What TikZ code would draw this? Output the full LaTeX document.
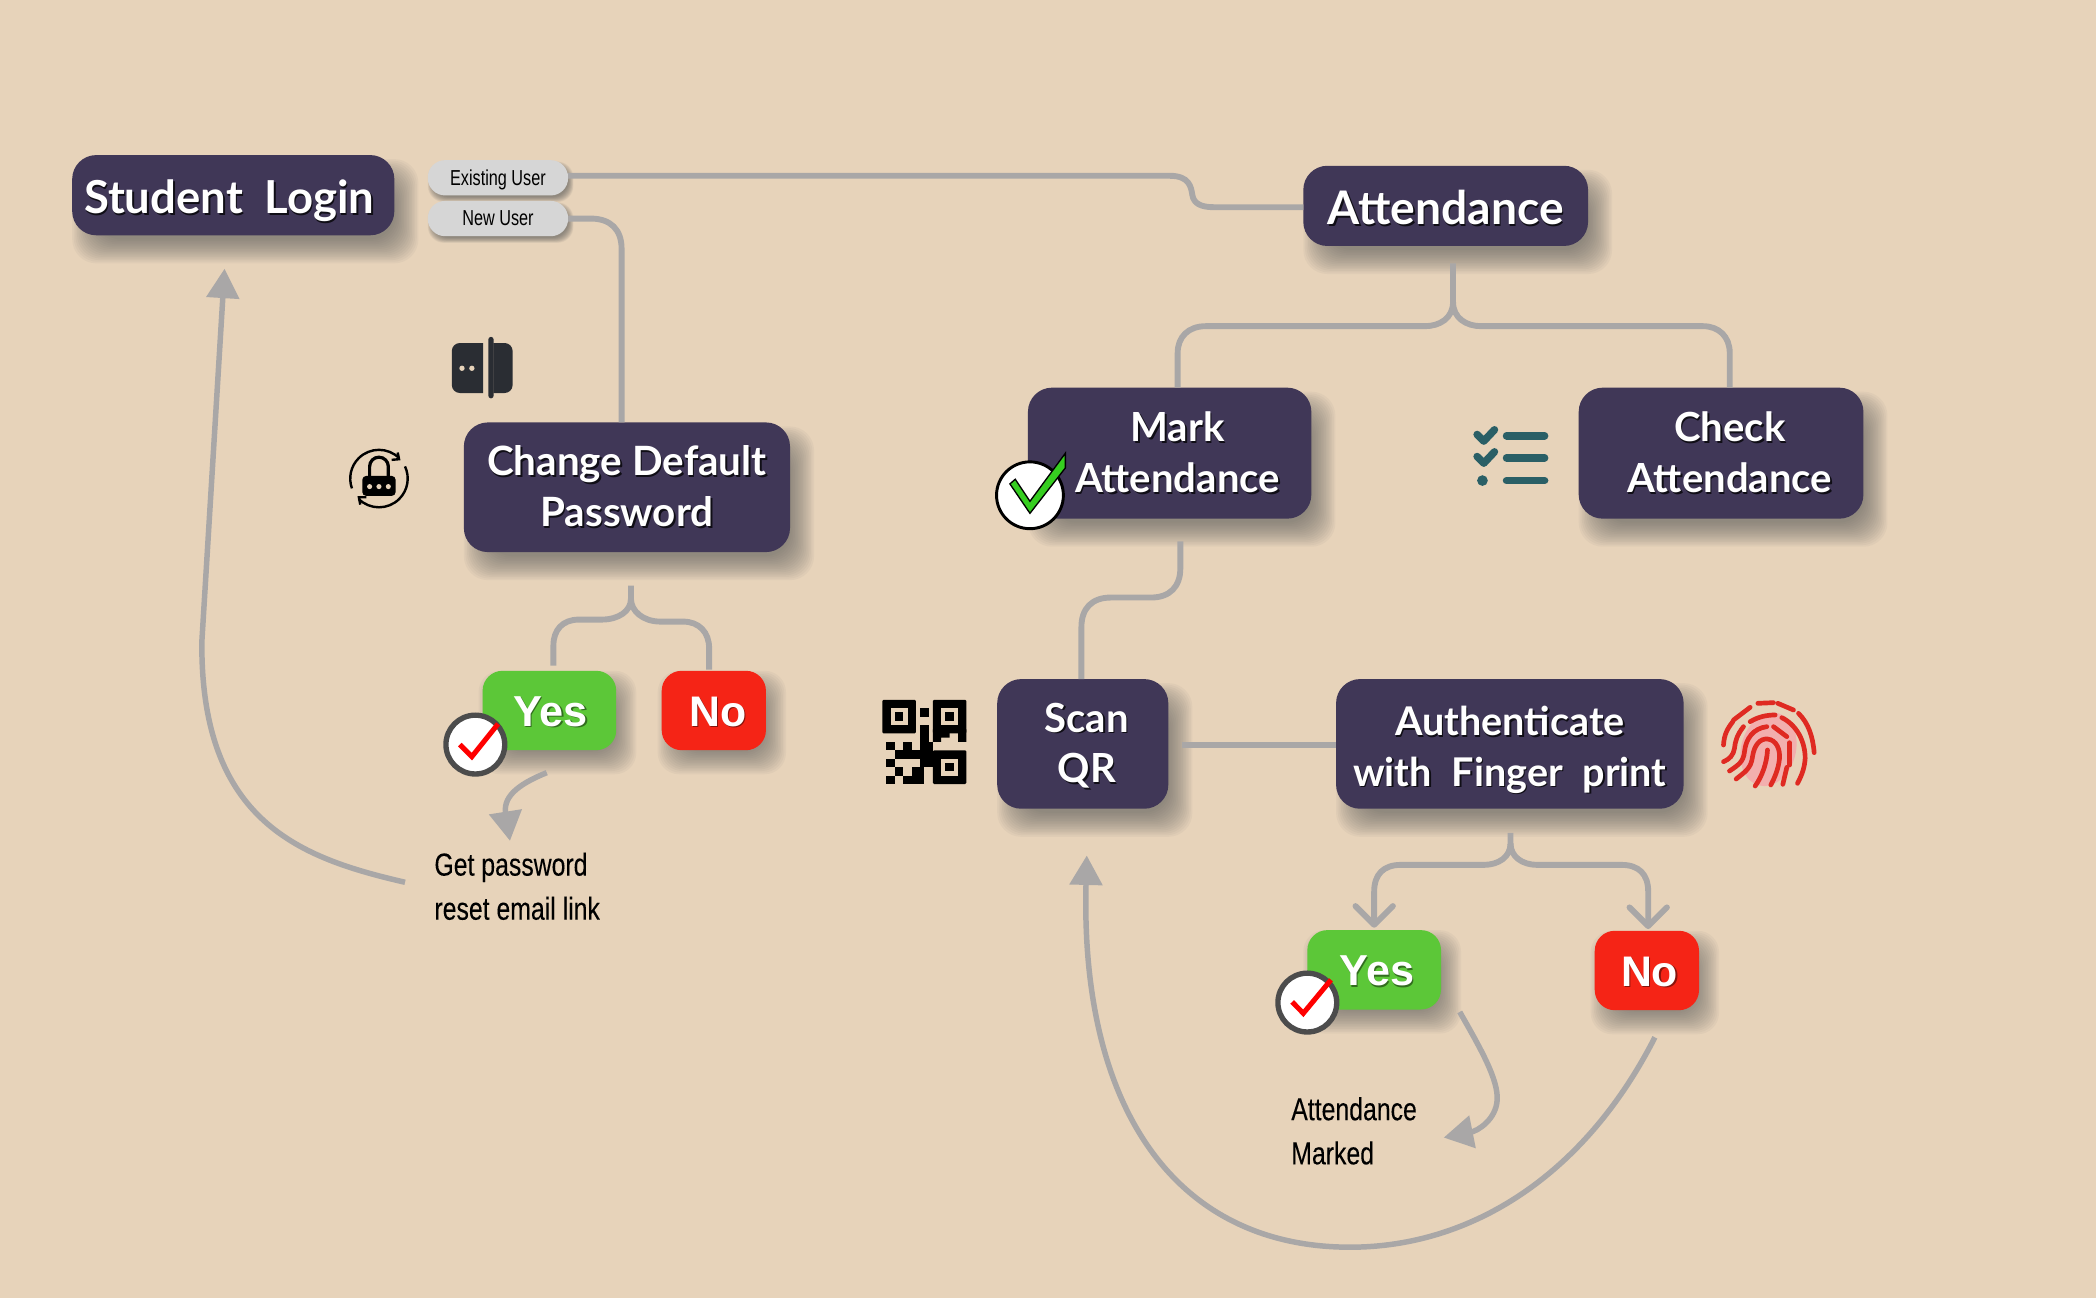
\documentclass[tikz,border=0pt]{standalone}
\usepackage{fontspec}
\usetikzlibrary{calc,arrows.meta,positioning}
\setmainfont{Lato}
\newfontfamily\boxfont{Lato}[UprightFont=* Bold]
\newfontfamily\yesfont{Liberation Sans}[UprightFont=* Bold]
\newfontfamily\narrowfont{Liberation Sans}[FakeStretch=0.78,FakeBold=0.15]
\newfontfamily\pillfont{Liberation Sans}[FakeStretch=0.75]
\definecolor{paper}{HTML}{E7D3BA}
\definecolor{boxc}{HTML}{403757}
\definecolor{yesc}{HTML}{5CC738}
\definecolor{noc}{HTML}{F52416}
\definecolor{linec}{HTML}{A9A7A7}
\definecolor{pillc}{HTML}{D6D6D6}
\definecolor{tealc}{HTML}{2A5F66}
\definecolor{fpred}{HTML}{DF2A22}
\definecolor{fppink}{HTML}{F2AFAE}
\definecolor{inkc}{HTML}{2A2D33}
\definecolor{tickgreen}{HTML}{36CE20}
\pgfdeclarelayer{shadowlayer}
\pgfsetlayers{shadowlayer,main}
\newcommand{\shadowed}[2][black!75!boxc]{\leavevmode\rlap{\kern.55pt\raisebox{-.65pt}{\textcolor{#1}{#2}}}#2}
\newcommand{\softshadow}[5]{%
 \begin{pgfonlayer}{shadowlayer}
 \foreach \k in {0,...,15}{%
  \pgfmathsetmacro{\gr}{#4-2*#4*\k/15}
  \fill[black!65, opacity=.05, rounded corners=#5]
   ($(#1.south west)+(#2-\gr,#3+\gr)$) rectangle ($(#1.north east)+(#2+\gr,#3-\gr)$);
 }
 \end{pgfonlayer}}
\tikzset{
 base/.style={inner sep=0pt, align=center, outer sep=0pt},
 darkbox/.style={base, fill=boxc, rounded corners=9pt, text=white,
   font=\boxfont\fontsize{15}{19}\selectfont},
 pill/.style={base, fill=pillc, rounded corners=6.5pt, minimum width=52.5pt, minimum height=13.2pt,
   font=\pillfont\fontsize{8.1}{9}\selectfont},
 yesbox/.style={base, fill=yesc, rounded corners=7.5pt, text=white, minimum width=50pt, minimum height=29.7pt,
   font=\yesfont\fontsize{16.2}{19}\selectfont},
 nobox/.style={base, fill=noc, rounded corners=7.5pt, text=white, minimum width=39pt, minimum height=29.7pt,
   font=\yesfont\fontsize{16}{19}\selectfont},
 note/.style={base, align=left, anchor=west, font=\narrowfont\fontsize{11.9}{16.5}\selectfont},
 link/.style={draw=linec, line width=2.2pt},
 curve/.style={draw=linec, line width=2.05pt},
 solidhead/.style={-{Triangle[length=11pt,width=12pt]}},
 barbhead/.style={-{Straight Barb[length=7pt,width=14pt,round]}},
 badge/.style={circle, draw=black!70, line width=2pt, fill=white, minimum size=22pt, inner sep=0pt},
 redcheck/.style={draw=red, line width=1.9pt},
}
\begin{document}
\begin{tikzpicture}[x=0.5pt,y=-0.5pt]
\begin{pgfonlayer}{shadowlayer}
\fill[paper] (0,0) rectangle (1568,971);
\end{pgfonlayer}
\useasboundingbox (0,0) rectangle (1568,971);

% nodes
\node[darkbox, minimum width=120.5pt, minimum height=30pt, font=\boxfont\fontsize{17}{19}\selectfont] (login) at (174.5,146) {\hspace*{-3pt}\rule{0pt}{17.5pt}\shadowed{Student\ \ Login}};
\node[pill] (existing) at (372.5,133) {\rule{0pt}{7.2pt}Existing User};
\node[pill] (newuser) at (372.5,163.5) {New User};
\node[darkbox, minimum width=106.5pt, minimum height=30pt, font=\boxfont\fontsize{17.3}{19}\selectfont] (attendance) at (1081.5,154) {\rule{0pt}{14.7pt}\shadowed{Attendance}};
\node[darkbox, minimum width=122pt, minimum height=48.5pt, font=\boxfont\fontsize{15.1}{19}\selectfont] (changepw) at (469,364.5) {\shadowed{Change Default}\\\shadowed{Password}};
\node[darkbox, minimum width=106pt, minimum height=49pt] (mark) at (875,339) {\hspace*{6pt}\shadowed{Mark}\\\hspace*{6pt}\shadowed{Attendance}};
\node[darkbox, minimum width=106.5pt, minimum height=49pt] (check) at (1287.5,339) {\hspace*{6.5pt}\shadowed{Check}\\\hspace*{6.5pt}\shadowed{Attendance}};
\node[darkbox, minimum width=64pt, minimum height=48.5pt] (scan) at (810,556.5) {\hspace*{3pt}\rule{0pt}{13pt}\shadowed{Scan}\\\hspace*{3pt}\shadowed{QR}};
\node[darkbox, minimum width=130pt, minimum height=48.5pt, font=\boxfont\fontsize{14.8}{19}\selectfont] (auth) at (1129.5,556.5) {\rule{0pt}{15.9pt}\shadowed{Authenticate}\\\shadowed{with\hspace{.5em}Finger\hspace{.5em}print}};
\node[yesbox] (yesa) at (411,531.5) {\hspace*{1pt}\rule{0pt}{12.5pt}\shadowed[yesc!55!black]{Yes}};
\node[nobox] (noa) at (534,531.5) {\hspace*{3pt}\rule{0pt}{12.5pt}\shadowed[noc!55!black]{No}};
\node[yesbox] (yesb) at (1028,725.5) {\hspace*{2pt}\rule{0pt}{12.5pt}\shadowed[yesc!55!black]{Yes}};
\node[nobox] (nob) at (1232,726) {\hspace*{2pt}\rule{0pt}{12.5pt}\shadowed[noc!55!black]{No}};
\node[note] (pwnote) at (325,663) {Get password\\reset email link};
\node[note] (marked) at (966,846) {Attendance\\Marked};
\node[badge] (badgea) at (355.6,557) {};
\node[badge] (badgeb) at (978,750) {};
\node[circle, draw=black, line width=1.1pt, fill=white, minimum size=25pt, inner sep=0pt] (badgec) at (770.5,370.5) {};

% shadows
\softshadow{login}{9}{12}{9}{9pt}
\softshadow{attendance}{9}{12}{9}{9pt}
\softshadow{changepw}{9}{12}{9}{9pt}
\softshadow{mark}{9}{12}{9}{9pt}
\softshadow{check}{9}{12}{9}{9pt}
\softshadow{scan}{9}{12}{9}{9pt}
\softshadow{auth}{9}{12}{9}{9pt}
\softshadow{yesa}{6}{9}{9}{8pt}
\softshadow{noa}{6}{9}{9}{8pt}
\softshadow{yesb}{6}{9}{9}{8pt}
\softshadow{nob}{6}{9}{9}{8pt}
\softshadow{existing}{2}{3}{2}{6pt}
\softshadow{newuser}{2}{3}{2}{6pt}

% connectors
\draw[link] (existing.east |- 0,131.5) -- (875,131.5) .. controls (890,131.5) and (891,140) .. (892,146) .. controls (893,152) and (898,155) .. (908,155) -- (attendance.west |- 0,155);
\draw[link] (newuser.east |- 0,163.5) -- (442,163.5) .. controls (457,163.5) and (465,172) .. (465,186) -- (465,316);

% Attendance brace
\coordinate (attstem) at (1087,197);
\coordinate (attfork) at (1087,226);
\draw[link] (attstem) -- (attfork) .. controls (1087,238) and (1077,244) .. (1066,244) -- (902,244) .. controls (889,244) and (881,252) .. (881,264) -- (881,290);
\draw[link] (attfork) .. controls (1087,238) and (1097,244) .. (1108,244) -- (1274,244) .. controls (1286,244) and (1294,252) .. (1294,264) -- (1294,290);

% Password brace
\coordinate (pwstem) at (472,438);
\coordinate (pwfork) at (472,448);
\draw[link] (pwstem) -- (pwfork) .. controls (472,457) and (463,463.5) .. (450,463.5) -- (433,463.5) .. controls (421,463.5) and (414,471) .. (414,483) -- (414,498);
\draw[link] (pwfork) .. controls (472,457) and (481,465) .. (494,465) -- (511,465) .. controls (523,465) and (530.5,473) .. (530.5,485) -- (530.5,501);

% Mark to Scan
\coordinate (markfoot) at (883,405);
\draw[link] (markfoot) -- (883,425) .. controls (883,439) and (875,447) .. (861,447) -- (831,447) .. controls (817,447) and (809,455) .. (809,469) -- (809,508);

% Scan to Auth
\draw[link] (884,557) -- (auth.west |- 0,557);

% Auth brace with barbs
\coordinate (authstem) at (1130,623);
\coordinate (authfork) at (1130,631);
\draw[link, barbhead] (authstem) -- (authfork) .. controls (1130,641) and (1121,647) .. (1110,647) -- (1048,647) .. controls (1035,647) and (1028,654) .. (1028,667) -- (1028,694);
\draw[link, barbhead] (authfork) .. controls (1130,641) and (1139,647) .. (1150,647) -- (1213,647) .. controls (1226,647) and (1233,654) .. (1233,667) -- (1233,695);

% Curved arrows
\coordinate (yesafoot) at (409,578);
\coordinate (pwtip) at (381.5,629);
\draw[curve, solidhead] (yesafoot) .. controls (392,585) and (376,594) .. (pwtip);
\coordinate (pwback) at (303,660);
\coordinate (logintip) at (168,201);
\draw[curve, solidhead] (pwback) .. controls (225,642) and (150,615) .. (151,480) -- (logintip);
\coordinate (yesbfoot) at (1092,757);
\coordinate (markedtip) at (1080,851);
\draw[curve, solidhead] (yesbfoot) .. controls (1108,785) and (1121,808) .. (1120,823) .. controls (1119,838) and (1105,846) .. (markedtip);
\coordinate (nobfoot) at (1238,776);
\coordinate (scantip) at (813,640);
\draw[curve, solidhead] (nobfoot) .. controls (1185,880) and (1100,933) .. (1010,933) .. controls (880,933) and (808,830) .. (scantip);

% badge checks
\draw[redcheck] ($(badgea)+(-11.6,0)$) -- ($(badgea)+(-2.6,9)$) -- ($(badgea)+(17,-15.5)$);
\draw[redcheck] ($(badgeb)+(-11.4,-0.5)$) -- ($(badgeb)+(-3,8)$) -- ($(badgeb)+(17.7,-17)$);
\fill[tickgreen, draw=black, line width=.5pt] (755.5,362) -- (770.5,384) -- (797,350) -- (797,339) -- (770.5,375) -- (759.5,358.5) -- cycle;

% door icon
\fill[inkc] (361.5,256.6) [rounded corners=3pt] -- (338,256.6) -- (338,294) [sharp corners] -- (361.5,294) -- cycle;
\fill[inkc] (369,256.6) [rounded corners=3pt] -- (383.5,256.6) -- (383.5,294) [sharp corners] -- (369,294) -- cycle;
\fill[inkc, rounded corners=1pt] (365.3,252) rectangle (369.3,298);
\fill[paper] (345.6,275.5) circle[radius=2];
\fill[paper] (353,275.5) circle[radius=2];

% lock icon
\coordinate (lk) at (283.5,358);
\draw[black, line width=.9pt] ($(lk)+(-45:21.5)$) arc[start angle=-45,end angle=-200,radius=21.5];
\draw[black, line width=.9pt] ($(lk)+(-225:21.5)$) arc[start angle=-225,end angle=-385,radius=21.5];
\draw[black, line width=.9pt] (297.5,338.5) -- (298.5,343.5) -- (293,344);
\draw[black, line width=.9pt] (269.5,377.5) -- (268.5,372) -- (274,372);
\draw[black, line width=1.2pt] (276.5,356) -- (276.5,349) arc[start angle=180,end angle=360,radius=7] -- (290.5,356);
\fill[black, rounded corners=1.5pt] (271,356) rectangle (296,371);
\foreach \px in {276.5,283.5,290.5}{\fill[paper] (\px,364) circle[radius=1.9];}

% checklist icon
\draw[tealc, line width=2.8pt, line cap=round, line join=round] (1105,325) -- (1110,330) -- (1118,321.5);
\draw[tealc, line width=2.8pt, line cap=round, line join=round] (1105,341.5) -- (1110,346.5) -- (1118,338);
\fill[tealc] (1109,359.5) circle[radius=4];
\foreach \ly in {326,342.5,359.5}{\draw[tealc, line width=2.8pt, line cap=round] (1127,\ly) -- (1155.5,\ly);}

% QR icon
\begin{scope}[shift={(660,523.5)}, x=3.15pt, y=-3.15pt]
\foreach \ox/\oy in {0/0,6/0,6/6}{
 \fill[black, rounded corners=.5pt] (\ox,\oy) rectangle ++(4,4);
 \fill[paper] (\ox+1,\oy+1) rectangle ++(2,2);
 \fill[black] (\ox+1.5,\oy+1.5) rectangle ++(1,1);
}
\fill[black] (6,3.5) rectangle (7,5) (9,3.5) rectangle (10,5) (7,3.5) rectangle (8,4.5);
\foreach \ax/\ay/\aw/\ah in {4.5/1/1/1, 4.5/3/1/2, 0.5/5/1/1, 2.5/5/1/1, 1.5/6/2/1, 0.5/7/1/1, 3.5/6/2.5/1, 4.5/5/1.5/1, 4.5/7/1.5/1, 1.5/8/1/1, 3.5/8/1/1, 0.5/9/1/1, 2.5/9/2.5/1, 4.5/8/.5/2}{
 \fill[black] (\ax,\ay) rectangle ++(\aw,\ah);
}
\end{scope}

% fingerprint
\begin{scope}[shift={(1256.9,501.2)}, x=0.1247pt, y=-0.1247pt]
\fill[fppink, rotate around={-15:(265,238)}] (265,238) ellipse[x radius=82, y radius=112];
\begin{scope}[draw=fpred, line width=1.75pt, line cap=round]
\draw (130,225) .. controls (132,195) and (140,178) .. (158,155);
\draw (160,150) -- (210,112);
\draw (233,100) -- (280,98);
\draw (293,100) -- (340,120);
\draw (355,130) .. controls (385,160) and (398,200) .. (402,248);
\draw (210,155) .. controls (235,140) and (260,135) .. (285,135);
\draw (305,143) .. controls (350,165) and (375,215) .. (375,265) .. controls (373,295) and (365,315) .. (352,340);
\draw (190,170) .. controls (170,195) and (165,215) .. (163,235) .. controls (160,255) and (148,268) .. (130,275);
\draw (148,303) .. controls (175,285) and (190,275) .. (193,245) .. controls (197,205) and (220,175) .. (260,170);
\draw (280,170) -- (320,200);
\draw (328,218) -- (328,285);
\draw (320,292) -- (308,343);
\draw (168,327) .. controls (195,305) and (213,295) .. (217,260) .. controls (222,225) and (240,205) .. (262,207) .. controls (290,210) and (300,240) .. (298,265) .. controls (295,295) and (285,320) .. (272,345);
\draw (262,240) .. controls (260,280) and (245,320) .. (225,348);
\end{scope}
\end{scope}
\end{tikzpicture}
\end{document}
